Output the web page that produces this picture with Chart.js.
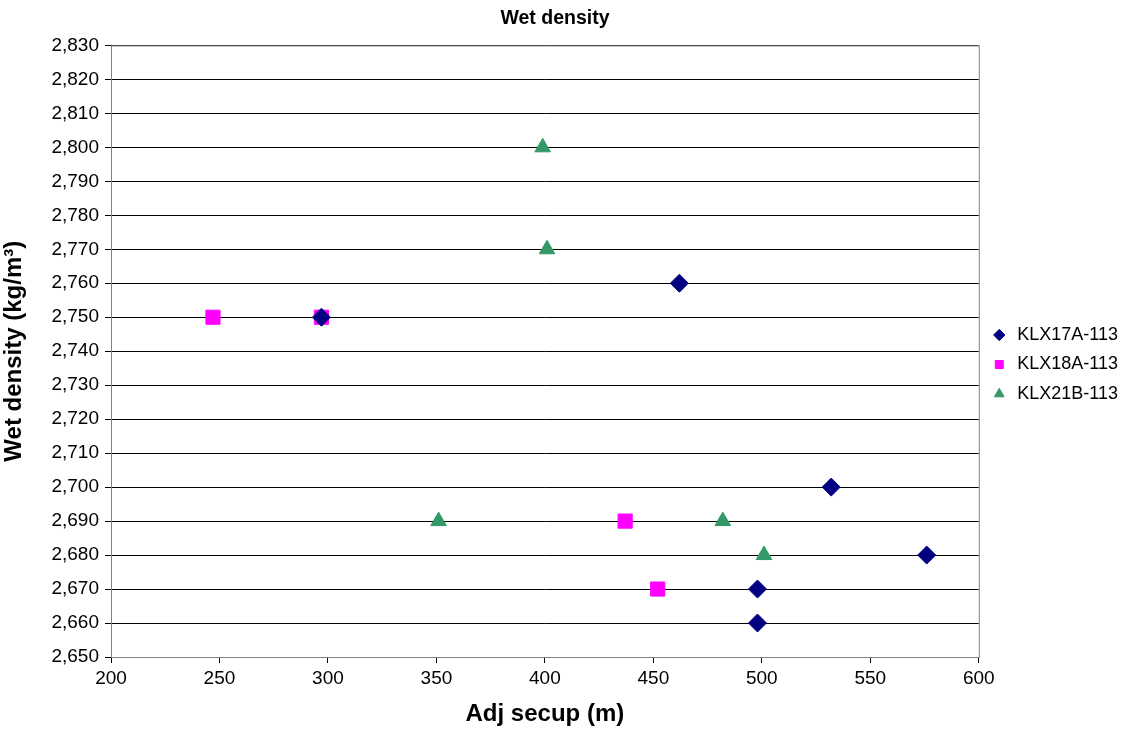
<!DOCTYPE html>
<html>
<head>
<meta charset="utf-8">
<script src="https://cdn.jsdelivr.net/npm/chart.js@4"></script>
<style>
  html, body { margin: 0; padding: 0; background: #fff; }
  #wrap { width: 1122px; height: 729px; }
</style>
</head>
<body>
<div id="wrap"><canvas id="densChart" width="1122" height="729"></canvas></div>
<script>
// Wet density vs adjusted secup
const klx17aX = [297, 462, 532, 576, 498, 498];
const klx17aY = [2750, 2760, 2700, 2680, 2670, 2660];
const klx18aX = [247, 297, 437, 452];
const klx18aY = [2750, 2750, 2690, 2670];
const klx21bX = [399, 401, 351, 482, 501];
const klx21bY = [2800, 2770, 2690, 2690, 2680];

const xMin = 200, xMax = 600, xStep = 50;
const yMin = 2650, yMax = 2830, yStep = 10;

const pts = (xs, ys) => xs.map((x, i) => ({ x: x, y: ys[i] }));
const FONT = 'Arial, "Liberation Sans", sans-serif';

// gray frame round the plot area, title nudged over the plot
const frame = {
  id: 'frame',
  afterLayout(chart) {
    if (chart.titleBlock) chart.titleBlock.right -= 18;
  },
  beforeDatasetsDraw(chart) {
    const a = chart.chartArea, c = chart.ctx;
    c.save();
    c.strokeStyle = '#808080';
    c.lineWidth = 1;
    c.strokeRect(a.left + 0.5, a.top + 0.5, a.right - a.left, a.bottom - a.top);
    c.restore();
  }
};

Chart.defaults.font.family = FONT;
Chart.defaults.color = '#000';

new Chart(document.getElementById('densChart').getContext('2d'), {
  type: 'scatter',
  data: {
    datasets: [{
      label: 'KLX17A-113',
      data: pts(klx17aX, klx17aY),
      pointStyle: 'rectRot',
      pointRadius: 9,
      pointHoverRadius: 9,
      backgroundColor: '#000080',
      borderColor: '#000080',
      borderWidth: 1
    }, {
      label: 'KLX18A-113',
      data: pts(klx18aX, klx18aY),
      pointStyle: 'rect',
      pointRadius: 10,
      pointHoverRadius: 10,
      backgroundColor: '#ff00ff',
      borderColor: '#ff00ff',
      borderWidth: 1
    }, {
      label: 'KLX21B-113',
      data: pts(klx21bX, klx21bY),
      pointStyle: 'triangle',
      pointRadius: 9,
      pointHoverRadius: 9,
      backgroundColor: '#339966',
      borderColor: '#339966',
      borderWidth: 1
    }]
  },
  options: {
    responsive: false,
    animation: false,
    layout: { padding: { left: 0, right: -6, top: 0, bottom: 0 } },
    plugins: {
      title: {
        display: true,
        text: 'Wet density',
        font: { size: 19.5, weight: 'bold' },
        padding: { top: 7, bottom: 15 }
      },
      legend: {
        position: 'right',
        labels: {
          usePointStyle: true,
          boxHeight: 8,
          font: { size: 18 },
          padding: 11.5
        }
      },
      tooltip: { enabled: false }
    },
    scales: {
      x: {
        type: 'linear',
        min: xMin, max: xMax,
        ticks: { stepSize: xStep, font: { size: 19 }, padding: 4 },
        grid: { drawOnChartArea: false, color: '#000', tickLength: 6 },
        border: { color: '#000', width: 1 },
        title: { display: true, text: 'Adj secup (m)', font: { size: 24, weight: 'bold' }, padding: { top: 0, bottom: 0 } },
        afterFit(s) { s.height = 72; }
      },
      y: {
        type: 'linear',
        min: yMin, max: yMax,
        ticks: { stepSize: yStep, font: { size: 19 }, padding: 6 },
        grid: { color: '#000', tickLength: 6 },
        border: { color: '#000', width: 1 },
        title: { display: true, text: 'Wet density (kg/m³)', font: { size: 24, weight: 'bold' }, padding: { top: 0, bottom: 0 } },
        afterFit(s) { s.width = 111; }
      }
    }
  },
  plugins: [frame]
});
</script>
</body>
</html>
